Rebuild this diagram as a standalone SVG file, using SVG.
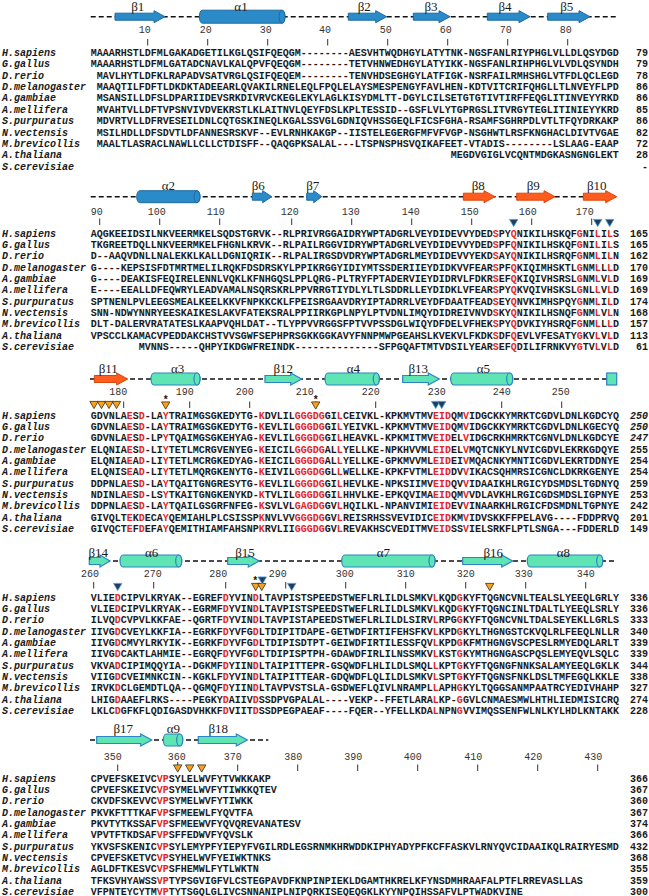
<svg xmlns="http://www.w3.org/2000/svg" xmlns:xlink="http://www.w3.org/1999/xlink" width="649" height="896" viewBox="0 0 649 896">
<style>
.s{font-family:"Liberation Mono","Courier New",monospace;font-size:10px;font-weight:bold;fill:#1a1a1a}
.n{font-family:"Liberation Mono","Courier New",monospace;font-size:10px;font-style:italic;font-weight:bold;fill:#1a1a1a}
.c{font-family:"Liberation Mono","Courier New",monospace;font-size:10px;font-weight:bold;fill:#1a1a1a;text-anchor:end}
.ci{font-style:italic}
.r{fill:#e3261f}
.rl{font-family:"Liberation Mono","Courier New",monospace;font-size:10px;fill:#333;text-anchor:middle}
.tk{stroke:#333;stroke-width:1}
.ss{font-family:"Liberation Serif","Times New Roman",serif;font-size:13px;fill:#1a1a1a;text-anchor:middle}
.dash{stroke:#111;stroke-width:1.6;stroke-dasharray:5 3;fill:none}
.bl{fill:#2b8bc9;stroke:#1c6aa3;stroke-width:1}
.or{fill:#ff5c1e;stroke:#d8470f;stroke-width:1}
.mi{fill:#5fe5b4;stroke:#2d84c4;stroke-width:1.2}
.tb{fill:#1e3f5f;stroke:#4aa0d8;stroke-width:0.8}
.to{fill:#f6a21e;stroke:#3b2a12;stroke-width:0.8}
.st{font-family:"Liberation Mono","Courier New",monospace;font-size:10px;font-weight:bold;fill:#111;text-anchor:middle}
</style>
<defs>
<path id="tri" d="M-4.2,-3.6 H4.2 L0,3.6 Z"/>
</defs>

<!-- ================= BLOCK 1 ================= -->
<g id="block1">
<g id="ss1">
<line class="dash" x1="90.7" y1="16.7" x2="616.7" y2="16.7"/>
<path class="bl" d="M115,13.2 H154 V10.7 L165,16.7 L154,22.7 V20.2 H115 Z"/>
<path class="bl" d="M202.3,10.2 H282 A3,6.5 0 0 1 282,23.2 H202.3 A3,6.5 0 0 1 202.3,10.2 Z"/>
<ellipse class="bl" cx="282" cy="16.7" rx="3" ry="6.5"/>
<path class="bl" d="M348.3,13.2 H375.7 V10.7 L386.7,16.7 L375.7,22.7 V20.2 H348.3 Z"/>
<path class="bl" d="M413.3,13.2 H439 V10.7 L450,16.7 L439,22.7 V20.2 H413.3 Z"/>
<path class="bl" d="M487.3,13.2 H519 V10.7 L530,16.7 L519,22.7 V20.2 H487.3 Z"/>
<path class="bl" d="M547.7,13.2 H579 V10.7 L590,16.7 L579,22.7 V20.2 H547.7 Z"/>
<text class="ss" x="137.7" y="10.5">β1</text>
<text class="ss" x="241" y="10.5">α1</text>
<text class="ss" x="364.3" y="10.5">β2</text>
<text class="ss" x="431" y="10.5">β3</text>
<text class="ss" x="505" y="10.5">β4</text>
<text class="ss" x="566.7" y="10.5">β5</text>
</g>
<g id="ruler1">
<text class="rl" x="144.7" y="32.8">10</text><line class="tk" x1="147.7" y1="39" x2="147.7" y2="45.5"/>
<text class="rl" x="205.7" y="32.8">20</text><line class="tk" x1="207.7" y1="39" x2="207.7" y2="45.5"/>
<text class="rl" x="265.7" y="32.8">30</text><line class="tk" x1="267.7" y1="39" x2="267.7" y2="45.5"/>
<text class="rl" x="325" y="32.8">40</text><line class="tk" x1="327.7" y1="39" x2="327.7" y2="45.5"/>
<text class="rl" x="385.7" y="32.8">50</text><line class="tk" x1="387.7" y1="39" x2="387.7" y2="45.5"/>
<text class="rl" x="445.7" y="32.8">60</text><line class="tk" x1="447.7" y1="39" x2="447.7" y2="45.5"/>
<text class="rl" x="505.7" y="32.8">70</text><line class="tk" x1="507.7" y1="39" x2="507.7" y2="45.5"/>
<text class="rl" x="565.7" y="32.8">80</text><line class="tk" x1="567.7" y1="39" x2="567.7" y2="45.5"/>
</g>
<g id="names1">
<text class="n" x="2" y="56">H.sapiens</text>
<text class="n" x="2" y="67.4">G.gallus</text>
<text class="n" x="2" y="78.7">D.rerio</text>
<text class="n" x="2" y="90.1">D.melanogaster</text>
<text class="n" x="2" y="101.4">A.gambiae</text>
<text class="n" x="2" y="112.8">A.mellifera</text>
<text class="n" x="2" y="124.1">S.purpuratus</text>
<text class="n" x="2" y="135.5">N.vectensis</text>
<text class="n" x="2" y="146.8">M.brevicollis</text>
<text class="n" x="2" y="158.2">A.thaliana</text>
<text class="n" x="2" y="169.5">S.cerevisiae</text>
</g>
<g id="seq1">
<text class="s" x="90.7" y="56">MAAARHSTLDFMLGAKADGETILKGLQSIFQEQGM--------AESVHTWQDHGYLATYTNK-NGSFANLRIYPHGLVLLDLQSYDGD</text>
<text class="s" x="90.7" y="67.4">MAAARHSTLDFMLGATADCNAVLKALQPVFQEQGM--------TETVHNWEDHGYLATYIKK-NGSFANLRIHPHGLVLVDLQSYNDH</text>
<text class="s" x="96.7" y="78.7">MAVLHYTLDFKLRAPADVSATVRGLQSIFQEQEM--------TENVHDSEGHGYLATFIGK-NSRFAILRMHSHGLVTFDLQCLEGD</text>
<text class="s" x="96.7" y="90.1">MAAQTILFDFTLDKDKTADEEARLQVAKILRNELEQLFPQLELAYSMESPENGYFAVLHEN-KDTVITCRIFQHGLLTLNVEYFLPD</text>
<text class="s" x="96.7" y="101.4">MSANSILLDFSLDPARIIDEVSRKDIVRVCKEGLEKYLAGLKISYDMLTT-DGYLCILSETGTGTIVTIRFFEQGLITINVEYYRKD</text>
<text class="s" x="96.7" y="112.8">MVAHTVLLDFTVPSNVIVDVEKRSTLKLAITNVLQEYFDSLKPLTESSID--GSFLVLYTGPRGSLITVRGYTEGLITINIEYYKRD</text>
<text class="s" x="96.7" y="124.1">MDVRTVLLDFRVESEILDNLCQTGSKINEQLKGALSSVGLGDNIQVHSSGEQLFICSFGHA-RSAMFSGHRPDLVTLTFQYDRKAKP</text>
<text class="s" x="96.7" y="135.5">MSILHDLLDFSDVTLDFANNESRSKVF--EVLRNHKAKGP--IISTELEGERGFMFVFVGP-NSGHWTLRSFKNGHACLDIVTVGAE</text>
<text class="s" x="96.7" y="146.8">MAALTLASRACLNAWLLCLLCTDISFF--QAQGPKSALAL---LTSPNSPHSVQIKAFEET-VTADIS--------LSLAAG-EAAP</text>
<text class="s" x="450.7" y="158.2">MEGDVGIGLVCQNTMDGKASNGNGLEKT</text>
</g>
<g id="num1">
<text class="c" x="648" y="56">79</text>
<text class="c" x="648" y="67.4">79</text>
<text class="c" x="648" y="78.7">78</text>
<text class="c" x="648" y="90.1">86</text>
<text class="c" x="648" y="101.4">86</text>
<text class="c" x="648" y="112.8">85</text>
<text class="c" x="648" y="124.1">86</text>
<text class="c" x="648" y="135.5">82</text>
<text class="c" x="648" y="146.8">72</text>
<text class="c" x="648" y="158.2">28</text>
<text class="c" x="648" y="169.5">-</text>
</g>
</g>

<!-- ================= BLOCK 2 ================= -->
<g id="block2">
<g id="ss2">
<line class="dash" x1="90.7" y1="196.7" x2="616.7" y2="196.7"/>
<path class="bl" d="M139.7,190.7 H197 A3,6 0 0 1 197,202.7 H139.7 A3,6 0 0 1 139.7,190.7 Z"/>
<ellipse class="bl" cx="197" cy="196.7" rx="3" ry="6"/>
<path class="bl" d="M252.3,193.2 H262.7 V190.7 L271.7,196.7 L262.7,202.7 V200.2 H252.3 Z"/>
<path class="bl" d="M306.7,193.2 H313.7 V190.7 L321.7,196.7 L313.7,202.7 V200.2 H306.7 Z"/>
<path class="or" d="M463.3,193.2 H484 V190.7 L495,196.7 L484,202.7 V200.2 H463.3 Z"/>
<path class="or" d="M516.7,193.2 H544 V190.7 L555,196.7 L544,202.7 V200.2 H516.7 Z"/>
<path class="or" d="M583.3,193.2 H605.7 V190.7 L616.7,196.7 L605.7,202.7 V200.2 H583.3 Z"/>
<text class="ss" x="168.3" y="189.5">α2</text>
<text class="ss" x="258.3" y="189.5">β6</text>
<text class="ss" x="312.7" y="189.5">β7</text>
<text class="ss" x="478.3" y="189.5">β8</text>
<text class="ss" x="533.3" y="189.5">β9</text>
<text class="ss" x="596.7" y="189.5">β10</text>
</g>
<g id="ruler2">
<text class="rl" x="96.7" y="214.5">90</text><line class="tk" x1="99.7" y1="218.5" x2="99.7" y2="225"/>
<text class="rl" x="156.7" y="214.5">100</text><line class="tk" x1="159.7" y1="218.5" x2="159.7" y2="225"/>
<text class="rl" x="215.7" y="214.5">110</text><line class="tk" x1="219.7" y1="218.5" x2="219.7" y2="225"/>
<text class="rl" x="289.7" y="214.5">120</text><line class="tk" x1="291.7" y1="218.5" x2="291.7" y2="225"/>
<text class="rl" x="350.7" y="214.5">130</text><line class="tk" x1="351.7" y1="218.5" x2="351.7" y2="225"/>
<text class="rl" x="410.7" y="214.5">140</text><line class="tk" x1="411.7" y1="218.5" x2="411.7" y2="225"/>
<text class="rl" x="469.7" y="214.5">150</text><line class="tk" x1="471.7" y1="218.5" x2="471.7" y2="225"/>
<text class="rl" x="527.7" y="214.5">160</text><line class="tk" x1="531.7" y1="218.5" x2="531.7" y2="225"/>
<text class="rl" x="584.7" y="214.5">170</text><line class="tk" x1="591.7" y1="218.5" x2="591.7" y2="225"/>
</g>
<g id="marks2">
<use href="#tri" class="tb" x="513.7" y="223"/>
<use href="#tri" class="tb" x="597.7" y="223"/>
<use href="#tri" class="tb" x="609.7" y="223"/>
</g>
<g id="names2">
<text class="n" x="2" y="236.5">H.sapiens</text>
<text class="n" x="2" y="247.9">G.gallus</text>
<text class="n" x="2" y="259.2">D.rerio</text>
<text class="n" x="2" y="270.6">D.melanogaster</text>
<text class="n" x="2" y="281.9">A.gambiae</text>
<text class="n" x="2" y="293.3">A.mellifera</text>
<text class="n" x="2" y="304.6">S.purpuratus</text>
<text class="n" x="2" y="316">N.vectensis</text>
<text class="n" x="2" y="327.3">M.brevicollis</text>
<text class="n" x="2" y="338.7">A.thaliana</text>
<text class="n" x="2" y="350">S.cerevisiae</text>
</g>
<g id="seq2">
<text class="s" x="90.7" y="236.5">AQGKEEIDSILNKVEERMKELSQDSTGRVK--RLPRIVRGGAIDRYWPTADGRLVEYDIDEVVYDED<tspan class="r">S</tspan>PY<tspan class="r">Q</tspan>NIKILHSKQF<tspan class="r">G</tspan>NI<tspan class="r">L</tspan>I<tspan class="r">L</tspan>S</text>
<text class="s" x="90.7" y="247.9">TKGREETDQLLNKVEERMKELFHGNLKRVK--RLPAILRGGVIDRYWPTADGRLVEYDIDEVVYDED<tspan class="r">S</tspan>PF<tspan class="r">Q</tspan>NIKILHSKQF<tspan class="r">G</tspan>NI<tspan class="r">L</tspan>I<tspan class="r">L</tspan>S</text>
<text class="s" x="90.7" y="259.2">D--AAQVDNLLNALEKKLKALLDGNIQRIK--RLPALIRGSDVDRYWPTADGRLMEYDIDEVVYEKD<tspan class="r">S</tspan>AY<tspan class="r">Q</tspan>NIKILHSRQF<tspan class="r">G</tspan>NM<tspan class="r">L</tspan>I<tspan class="r">L</tspan>N</text>
<text class="s" x="90.7" y="270.6">G----KEPSISFDTMRTMELILRQKFDSDRSKYLPPIKRGGYIDIYMTSSDERIIEYDIDKVVFEAR<tspan class="r">S</tspan>PF<tspan class="r">Q</tspan>KIQIMHSKTL<tspan class="r">G</tspan>NM<tspan class="r">L</tspan>L<tspan class="r">L</tspan>D</text>
<text class="s" x="90.7" y="281.9">G----DEAKISFEQIRELENNLVQKLKFNHGQSLPPLQRG-PLTRYFPTADERVIEYDIDRVLFDKR<tspan class="r">S</tspan>EF<tspan class="r">Q</tspan>KIQIVHSRSL<tspan class="r">G</tspan>NM<tspan class="r">L</tspan>V<tspan class="r">L</tspan>D</text>
<text class="s" x="90.7" y="293.3">E----EEALLDFEQWRYLEADVAMALNSQRSKRLPPVRRGTIYDLYLTLSDDRLLEYDIDKLVFEAR<tspan class="r">S</tspan>PY<tspan class="r">Q</tspan>KVQIVHSKSL<tspan class="r">G</tspan>NL<tspan class="r">L</tspan>V<tspan class="r">L</tspan>D</text>
<text class="s" x="90.7" y="304.6">SPTNENLPVLEEGSMEALKEELKKVFNPKKCKLFPEISRGAAVDRYIPTADRRLVEYDFDAATFEAD<tspan class="r">S</tspan>EY<tspan class="r">Q</tspan>NVKIMHSPQY<tspan class="r">G</tspan>NM<tspan class="r">L</tspan>I<tspan class="r">L</tspan>D</text>
<text class="s" x="90.7" y="316">SNN-NDWYNNRYEESKAIKESLAKVFATEKSRALPPIIRKGPLNPYLPTVDNLIMQYDIDREIVNVD<tspan class="r">S</tspan>KY<tspan class="r">Q</tspan>NIKILHSNQF<tspan class="r">G</tspan>NM<tspan class="r">L</tspan>V<tspan class="r">L</tspan>N</text>
<text class="s" x="90.7" y="327.3">DLT-DALERVRATATESLKAAPVQHLDAT--TLYPPVVRGGSFPTVVPSSDGLWIQYDFDELVFHEK<tspan class="r">S</tspan>PY<tspan class="r">Q</tspan>DVKIYHSRQF<tspan class="r">G</tspan>NM<tspan class="r">L</tspan>L<tspan class="r">L</tspan>D</text>
<text class="s" x="90.7" y="338.7">VPSCCLKAMACVPEDDAKCHSTVVSGWFSEPHPRSGKKGGKAVYFNNPMWPGEAHSLKVEKVLFKDK<tspan class="r">S</tspan>DF<tspan class="r">Q</tspan>EVLVFESATY<tspan class="r">G</tspan>KV<tspan class="r">L</tspan>V<tspan class="r">L</tspan>D</text>
<text class="s" x="138.7" y="350">MVNNS-----QHPYIKDGWFREINDK--------------SFPGQAFTMTVDSILYEAR<tspan class="r">S</tspan>EF<tspan class="r">Q</tspan>DILIFRNKVY<tspan class="r">G</tspan>TV<tspan class="r">L</tspan>V<tspan class="r">L</tspan>D</text>
</g>
<g id="num2">
<text class="c" x="648" y="236.5">165</text>
<text class="c" x="648" y="247.9">165</text>
<text class="c" x="648" y="259.2">162</text>
<text class="c" x="648" y="270.6">170</text>
<text class="c" x="648" y="281.9">169</text>
<text class="c" x="648" y="293.3">169</text>
<text class="c" x="648" y="304.6">174</text>
<text class="c" x="648" y="316">168</text>
<text class="c" x="648" y="327.3">157</text>
<text class="c" x="648" y="338.7">113</text>
<text class="c" x="648" y="350">61</text>
</g>
</g>

<!-- ================= BLOCK 3 ================= -->
<g id="block3">
<g id="ss3">
<line class="dash" x1="90" y1="379" x2="606.7" y2="379"/>
<path class="or" d="M94.3,375.5 H116.7 V373 L127.7,379 L116.7,385 V382.5 H94.3 Z"/>
<path class="mi" d="M154,373 H197 A3,6 0 0 1 197,385 H154 A3,6 0 0 1 154,373 Z"/>
<ellipse class="mi" cx="197" cy="379" rx="3" ry="6"/>
<path class="mi" d="M265,375.5 H290.7 V373 L301.7,379 L290.7,385 V382.5 H265 Z"/>
<path class="mi" d="M328,373 H376.3 A3,6 0 0 1 376.3,385 H328 A3,6 0 0 1 328,373 Z"/>
<ellipse class="mi" cx="376.3" cy="379" rx="3" ry="6"/>
<path class="mi" d="M402.7,375.5 H428.3 V373 L439.3,379 L428.3,385 V382.5 H402.7 Z"/>
<path class="mi" d="M453.7,373 H509.7 A3,6 0 0 1 509.7,385 H453.7 A3,6 0 0 1 453.7,373 Z"/>
<ellipse class="mi" cx="509.7" cy="379" rx="3" ry="6"/>
<rect class="mi" x="606.7" y="373" width="10" height="12"/>
<text class="ss" x="108.3" y="372.8">β11</text>
<text class="ss" x="177.7" y="372.8">α3</text>
<text class="ss" x="283.3" y="372.8">β12</text>
<text class="ss" x="353.3" y="372.8">α4</text>
<text class="ss" x="418.3" y="372.8">β13</text>
<text class="ss" x="483.3" y="372.8">α5</text>
</g>
<g id="ruler3">
<text class="rl" x="118.3" y="395.2">180</text><line class="tk" x1="123.7" y1="401.5" x2="123.7" y2="408"/>
<text class="rl" x="184.7" y="395.2">190</text><line class="tk" x1="189.7" y1="401.5" x2="189.7" y2="408"/>
<text class="rl" x="244.7" y="395.2">200</text><line class="tk" x1="249.7" y1="401.5" x2="249.7" y2="408"/>
<text class="rl" x="304.7" y="395.2">210</text><line class="tk" x1="315.7" y1="401.5" x2="315.7" y2="408"/>
<text class="rl" x="370.7" y="395.2">220</text><line class="tk" x1="375.7" y1="401.5" x2="375.7" y2="408"/>
<text class="rl" x="436.7" y="395.2">230</text><line class="tk" x1="441.7" y1="401.5" x2="441.7" y2="408"/>
<text class="rl" x="501.7" y="395.2">240</text><line class="tk" x1="501.7" y1="401.5" x2="501.7" y2="408"/>
<text class="rl" x="560.7" y="395.2">250</text><line class="tk" x1="561.7" y1="401.5" x2="561.7" y2="408"/>
</g>
<g id="marks3">
<use href="#tri" class="to" x="94" y="405"/>
<use href="#tri" class="to" x="101.5" y="405"/>
<use href="#tri" class="to" x="109" y="405"/>
<use href="#tri" class="to" x="116.5" y="405"/>
<text class="st" x="165.7" y="403">*</text>
<use href="#tri" class="to" x="165.7" y="405.5"/>
<text class="st" x="315.7" y="403">*</text>
<use href="#tri" class="to" x="315.7" y="405.5"/>
<use href="#tri" class="tb" x="435.7" y="405"/>
<use href="#tri" class="tb" x="441.7" y="405"/>
</g>
<g id="names3">
<text class="n" x="2" y="418.5">H.sapiens</text>
<text class="n" x="2" y="429.9">G.gallus</text>
<text class="n" x="2" y="441.2">D.rerio</text>
<text class="n" x="2" y="452.6">D.melanogaster</text>
<text class="n" x="2" y="463.9">A.gambiae</text>
<text class="n" x="2" y="475.3">A.mellifera</text>
<text class="n" x="2" y="486.6">S.purpuratus</text>
<text class="n" x="2" y="498">N.vectensis</text>
<text class="n" x="2" y="509.3">M.brevicollis</text>
<text class="n" x="2" y="520.7">A.thaliana</text>
<text class="n" x="2" y="532">S.cerevisiae</text>
</g>
<g id="seq3">
<text class="s" x="90.7" y="418.5">GDVNLA<tspan class="r">E</tspan>S<tspan class="r">D</tspan>-LA<tspan class="r">Y</tspan>TRAIMGSGKEDYTG-<tspan class="r">K</tspan>DVLIL<tspan class="r">GGGDG</tspan>GI<tspan class="r">L</tspan>CEIVKL-KPKMVTMV<tspan class="r">EID</tspan>QM<tspan class="r">V</tspan>IDGCKKYMRKTCGDVLDNLKGDCYQ</text>
<text class="s" x="90.7" y="429.9">GDVNLA<tspan class="r">E</tspan>S<tspan class="r">D</tspan>-LA<tspan class="r">Y</tspan>TRAIMGSGKEDYTG-<tspan class="r">K</tspan>EVLIL<tspan class="r">GGGDG</tspan>GI<tspan class="r">L</tspan>YEIVKL-KPKMVTMV<tspan class="r">EID</tspan>QM<tspan class="r">V</tspan>IDGCKKYMRKTCGDVLDNLKGECYQ</text>
<text class="s" x="90.7" y="441.2">GDVNLA<tspan class="r">E</tspan>S<tspan class="r">D</tspan>-LP<tspan class="r">Y</tspan>TQAIMGSGKEHYAG-<tspan class="r">K</tspan>EVLIL<tspan class="r">GGGDG</tspan>GI<tspan class="r">L</tspan>HEAVKL-KPKMITMV<tspan class="r">EID</tspan>EL<tspan class="r">V</tspan>IDGCRKHMRKTCGNVLDNLKGDCYE</text>
<text class="s" x="90.7" y="452.6">ELQNIA<tspan class="r">E</tspan>S<tspan class="r">D</tspan>-LI<tspan class="r">Y</tspan>TETLMCRGVENYEG-<tspan class="r">K</tspan>EICIL<tspan class="r">GGGDG</tspan>AL<tspan class="r">L</tspan>YELLKE-NPKHVVML<tspan class="r">EID</tspan>EL<tspan class="r">V</tspan>MQTCNKYLNVICGDVLEKRKGDQYE</text>
<text class="s" x="90.7" y="463.9">ELQNIA<tspan class="r">E</tspan>A<tspan class="r">D</tspan>-LI<tspan class="r">Y</tspan>TETLMCRGKEDYAG-<tspan class="r">K</tspan>EICIL<tspan class="r">GGGDG</tspan>AL<tspan class="r">L</tspan>YELLKE-GPKMVVML<tspan class="r">EID</tspan>EI<tspan class="r">V</tspan>MQACNKYMNTICGDVLEKRTDDNYE</text>
<text class="s" x="90.7" y="475.3">ELQNIS<tspan class="r">E</tspan>A<tspan class="r">D</tspan>-LI<tspan class="r">Y</tspan>TETLMQRGKENYTG-<tspan class="r">K</tspan>EIVIL<tspan class="r">GGGDG</tspan>GL<tspan class="r">L</tspan>WELLKE-KPKFVTML<tspan class="r">EID</tspan>DV<tspan class="r">V</tspan>IKACSQHMRSICGNCLDKRKGENYE</text>
<text class="s" x="90.7" y="486.6">DDPNLA<tspan class="r">E</tspan>S<tspan class="r">D</tspan>-LA<tspan class="r">Y</tspan>TQAITGNGRESYTG-<tspan class="r">K</tspan>EVLIL<tspan class="r">GGGDG</tspan>GI<tspan class="r">L</tspan>HEVLKE-NPKSIIMV<tspan class="r">EID</tspan>QV<tspan class="r">V</tspan>IDAAIKHLRGICYDSMDSLTGDNYQ</text>
<text class="s" x="90.7" y="498">NDINLA<tspan class="r">E</tspan>S<tspan class="r">D</tspan>-LS<tspan class="r">Y</tspan>TKAITGNGKENYKD-<tspan class="r">K</tspan>TVLIL<tspan class="r">GGGDG</tspan>GI<tspan class="r">L</tspan>HHVLKE-EPKQVIMA<tspan class="r">EID</tspan>QM<tspan class="r">V</tspan>VDLAVKHLRGICGDSMDSLIGPNYE</text>
<text class="s" x="90.7" y="509.3">DDPNLA<tspan class="r">E</tspan>S<tspan class="r">D</tspan>-LA<tspan class="r">Y</tspan>TQAILGSGRFNFEG-<tspan class="r">K</tspan>SVLVL<tspan class="r">GAGDG</tspan>GV<tspan class="r">L</tspan>HQILKL-NPANVIMI<tspan class="r">EID</tspan>EV<tspan class="r">V</tspan>INAARKHLRGICFDSMDNLTGPNYE</text>
<text class="s" x="90.7" y="520.7">GIVQLT<tspan class="r">E</tspan>K<tspan class="r">D</tspan>ECA<tspan class="r">Y</tspan>QEMIAHLPLCSISSP<tspan class="r">K</tspan>NVLVV<tspan class="r">GGGDG</tspan>GV<tspan class="r">L</tspan>REISRHSSVEVIDIC<tspan class="r">EID</tspan>KM<tspan class="r">V</tspan>IDVSKKFFPELAVG----FDDPRVQ</text>
<text class="s" x="90.7" y="532">GIVQCT<tspan class="r">E</tspan>F<tspan class="r">D</tspan>EFA<tspan class="r">Y</tspan>QEMITHIAMFAHSNP<tspan class="r">K</tspan>RVLII<tspan class="r">GGGDG</tspan>GV<tspan class="r">L</tspan>REVAKHSCVEDITMV<tspan class="r">EID</tspan>SS<tspan class="r">V</tspan>IELSRKFLPTLSNGA---FDDERLD</text>
</g>
<g id="num3">
<text class="c ci" x="648" y="418.5">250</text>
<text class="c ci" x="648" y="429.9">250</text>
<text class="c ci" x="648" y="441.2">247</text>
<text class="c" x="648" y="452.6">255</text>
<text class="c" x="648" y="463.9">254</text>
<text class="c" x="648" y="475.3">254</text>
<text class="c" x="648" y="486.6">259</text>
<text class="c" x="648" y="498">253</text>
<text class="c" x="648" y="509.3">242</text>
<text class="c" x="648" y="520.7">201</text>
<text class="c" x="648" y="532">149</text>
</g>
</g>

<!-- ================= BLOCK 4 ================= -->
<g id="block4">
<g id="ss4">
<line class="dash" x1="89" y1="561" x2="616.7" y2="561"/>
<path class="mi" d="M89.3,557.5 H100 V555 L110,561 L100,567 V564.5 H89.3 Z"/>
<path class="mi" d="M123,555 H178.7 A3,6 0 0 1 178.7,567 H123 A3,6 0 0 1 123,555 Z"/>
<ellipse class="mi" cx="178.7" cy="561" rx="3" ry="6"/>
<path class="mi" d="M227.7,557.5 H248.3 V555 L259.3,561 L248.3,567 V564.5 H227.7 Z"/>
<path class="mi" d="M344.7,555 H432 A3,6 0 0 1 432,567 H344.7 A3,6 0 0 1 344.7,555 Z"/>
<ellipse class="mi" cx="432" cy="561" rx="3" ry="6"/>
<path class="mi" d="M462.7,557.5 H501.7 V555 L512.7,561 L501.7,567 V564.5 H462.7 Z"/>
<path class="mi" d="M530.3,555 H599.7 A3,6 0 0 1 599.7,567 H530.3 A3,6 0 0 1 530.3,555 Z"/>
<ellipse class="mi" cx="599.7" cy="561" rx="3" ry="6"/>
<text class="ss" x="98.3" y="556.8">β14</text>
<text class="ss" x="151.7" y="556.8">α6</text>
<text class="ss" x="245" y="556.8">β15</text>
<text class="ss" x="383.3" y="556.8">α7</text>
<text class="ss" x="493.3" y="556.8">β16</text>
<text class="ss" x="563.3" y="556.8">α8</text>
</g>
<g id="ruler4">
<text class="rl" x="90" y="576.8">260</text><line class="tk" x1="93.7" y1="582" x2="93.7" y2="588.5"/>
<text class="rl" x="152.7" y="576.8">270</text><line class="tk" x1="153.7" y1="582" x2="153.7" y2="588.5"/>
<text class="rl" x="218.3" y="576.8">280</text><line class="tk" x1="225.7" y1="582" x2="225.7" y2="588.5"/>
<text class="rl" x="277.7" y="576.8">290</text><line class="tk" x1="285.7" y1="582" x2="285.7" y2="588.5"/>
<text class="rl" x="344.7" y="576.8">300</text><line class="tk" x1="345.7" y1="582" x2="345.7" y2="588.5"/>
<text class="rl" x="405.7" y="576.8">310</text><line class="tk" x1="405.7" y1="582" x2="405.7" y2="588.5"/>
<text class="rl" x="465.7" y="576.8">320</text><line class="tk" x1="465.7" y1="582" x2="465.7" y2="588.5"/>
<text class="rl" x="523.7" y="576.8">330</text><line class="tk" x1="525.7" y1="582" x2="525.7" y2="588.5"/>
<text class="rl" x="585.7" y="576.8">340</text><line class="tk" x1="585.7" y1="582" x2="585.7" y2="588.5"/>
</g>
<g id="marks4">
<use href="#tri" class="tb" x="117.7" y="587"/>
<use href="#tri" class="to" x="255.7" y="587"/>
<use href="#tri" class="to" x="261.7" y="587"/>
<text class="st" x="255.2" y="584">*</text>
<use href="#tri" class="tb" x="262.3" y="580.5"/>
<use href="#tri" class="tb" x="291.7" y="587"/>
<use href="#tri" class="to" x="489.7" y="587"/>
</g>
<g id="names4">
<text class="n" x="2" y="600.5">H.sapiens</text>
<text class="n" x="2" y="611.9">G.gallus</text>
<text class="n" x="2" y="623.2">D.rerio</text>
<text class="n" x="2" y="634.6">D.melanogaster</text>
<text class="n" x="2" y="645.9">A.gambiae</text>
<text class="n" x="2" y="657.3">A.mellifera</text>
<text class="n" x="2" y="668.6">S.purpuratus</text>
<text class="n" x="2" y="680">N.vectensis</text>
<text class="n" x="2" y="691.3">M.brevicollis</text>
<text class="n" x="2" y="702.7">A.thaliana</text>
<text class="n" x="2" y="714">S.cerevisiae</text>
</g>
<g id="seq4">
<text class="s" x="90.7" y="600.5">VLIE<tspan class="r">D</tspan>CIPVLKRYAK--EGREF<tspan class="r">D</tspan>YVIN<tspan class="r">D</tspan>LTAVPISTSPEEDSTWEFLRLILDLSMKV<tspan class="r">L</tspan>KQD<tspan class="r">G</tspan>KYFTQGNCVNLTEALSLYEEQLGRLY</text>
<text class="s" x="90.7" y="611.9">VLIE<tspan class="r">D</tspan>CIPVLKRYAK--EGRMF<tspan class="r">D</tspan>YVIN<tspan class="r">D</tspan>LTAVPISTSPEEDSTWEFLRLILDLSMKV<tspan class="r">L</tspan>KQD<tspan class="r">G</tspan>KYFTQGNCINLTDALTLYEEQLSRLY</text>
<text class="s" x="90.7" y="623.2">ILVQ<tspan class="r">D</tspan>CVPVLKKFAE--QGRTF<tspan class="r">D</tspan>YVIN<tspan class="r">D</tspan>LTAVPISTAPEEDSTWEFLRLILDLSIRV<tspan class="r">L</tspan>RPG<tspan class="r">G</tspan>KYFTQGNCVNLTDALSEYEKLLGRLS</text>
<text class="s" x="90.7" y="634.6">IIVG<tspan class="r">D</tspan>CVEYLKKFIA--EGRKF<tspan class="r">D</tspan>YVFG<tspan class="r">D</tspan>LTDIPITDAPE-GETWDFIRTIFEHSFKV<tspan class="r">L</tspan>KPD<tspan class="r">G</tspan>KYLTHGNGSTCKVQLRLFEEQLNLLR</text>
<text class="s" x="90.7" y="645.9">IIVG<tspan class="r">D</tspan>CMVYLRKYIK--EGRKF<tspan class="r">D</tspan>YVFG<tspan class="r">D</tspan>LTDIPISDTPT-GEIWDFIRTILESSFQV<tspan class="r">L</tspan>KPD<tspan class="r">G</tspan>KFMTHGNGVSCPESLRMYEDQLARLT</text>
<text class="s" x="90.7" y="657.3">IIVG<tspan class="r">D</tspan>CAKTLAHMIE--EGRQF<tspan class="r">D</tspan>YVFG<tspan class="r">D</tspan>LTDIPISPTPH-GDAWDFIRLILNSSMKV<tspan class="r">L</tspan>KST<tspan class="r">G</tspan>KYMTHGNGASCPQSLEMYEQVLSQLC</text>
<text class="s" x="90.7" y="668.6">VKVA<tspan class="r">D</tspan>CIPIMQQYIA--DGKMF<tspan class="r">D</tspan>YIIN<tspan class="r">D</tspan>LTAIPITTEPR-GSQWDFLHLILDLSMQL<tspan class="r">L</tspan>KPT<tspan class="r">G</tspan>KYFTQGNGFNNKSALAMYEEQLGKLK</text>
<text class="s" x="90.7" y="680">VIIG<tspan class="r">D</tspan>CVEIMNKCIN--KGKLF<tspan class="r">D</tspan>YVIN<tspan class="r">D</tspan>LTAIPITTEAR-GDQWDFLQLILDLSMKV<tspan class="r">L</tspan>SPT<tspan class="r">G</tspan>KYFTQGNSFNKLDSLTMFEGQLKKLE</text>
<text class="s" x="90.7" y="691.3">IRVK<tspan class="r">D</tspan>CLGEMDTLQA--QGMQF<tspan class="r">D</tspan>YIIN<tspan class="r">D</tspan>LTAVPVSTSLA-GSDWEFLQIVLNRAMPL<tspan class="r">L</tspan>APH<tspan class="r">G</tspan>KYLTQGGSANMPAATRCYEDIVHAHP</text>
<text class="s" x="90.7" y="702.7">LHIG<tspan class="r">D</tspan>AAEFLRKS----PEGKY<tspan class="r">D</tspan>AIIV<tspan class="r">D</tspan>SSDPVGPALAL----VEKP--FFETLARA<tspan class="r">L</tspan>KP-<tspan class="r">G</tspan>GVLCNMAESMWLHTHLIEDMISICRQ</text>
<text class="s" x="90.7" y="714">LKLC<tspan class="r">D</tspan>GFKFLQDIGASDVHKKF<tspan class="r">D</tspan>VIIT<tspan class="r">D</tspan>SSDPEGPAEAF----FQER--YFELLKDA<tspan class="r">L</tspan>NPN<tspan class="r">G</tspan>VVIMQSSENFWLNLKYLHDLKNTAKK</text>
</g>
<g id="num4">
<text class="c" x="648" y="600.5">336</text>
<text class="c" x="648" y="611.9">336</text>
<text class="c" x="648" y="623.2">333</text>
<text class="c" x="648" y="634.6">340</text>
<text class="c" x="648" y="645.9">339</text>
<text class="c" x="648" y="657.3">339</text>
<text class="c" x="648" y="668.6">344</text>
<text class="c" x="648" y="680">338</text>
<text class="c" x="648" y="691.3">327</text>
<text class="c" x="648" y="702.7">274</text>
<text class="c" x="648" y="714">228</text>
</g>
</g>

<!-- ================= BLOCK 5 ================= -->
<g id="block5">
<g id="ss5">
<line class="dash" x1="90" y1="740" x2="268.3" y2="740"/>
<path class="mi" d="M96.7,736.5 H140.7 V734 L151.7,740 L140.7,746 V743.5 H96.7 Z"/>
<path class="mi" d="M166.3,734 H179.7 A3,6 0 0 1 179.7,746 H166.3 A3,6 0 0 1 166.3,734 Z"/>
<ellipse class="mi" cx="179.7" cy="740" rx="3" ry="6"/>
<path class="mi" d="M198.3,736.5 H236.3 V734 L247.3,740 L236.3,746 V743.5 H198.3 Z"/>
<text class="ss" x="123.3" y="732.8">β17</text>
<text class="ss" x="173.3" y="732.8">α9</text>
<text class="ss" x="218.3" y="732.8">β18</text>
</g>
<g id="ruler5">
<text class="rl" x="112.7" y="760.2">350</text><line class="tk" x1="117.7" y1="764.5" x2="117.7" y2="771"/>
<text class="rl" x="176.7" y="760.2">360</text><line class="tk" x1="177.7" y1="762" x2="177.7" y2="771"/>
<text class="rl" x="232.7" y="760.2">370</text><line class="tk" x1="237.7" y1="764.5" x2="237.7" y2="771"/>
<text class="rl" x="293.3" y="760.2">380</text><line class="tk" x1="297.7" y1="764.5" x2="297.7" y2="771"/>
<text class="rl" x="353.3" y="760.2">390</text><line class="tk" x1="357.7" y1="764.5" x2="357.7" y2="771"/>
<text class="rl" x="412.7" y="760.2">400</text><line class="tk" x1="417.7" y1="764.5" x2="417.7" y2="771"/>
<text class="rl" x="473.3" y="760.2">410</text><line class="tk" x1="477.7" y1="764.5" x2="477.7" y2="771"/>
<text class="rl" x="533.3" y="760.2">420</text><line class="tk" x1="537.7" y1="764.5" x2="537.7" y2="771"/>
<text class="rl" x="593.3" y="760.2">430</text><line class="tk" x1="597.7" y1="764.5" x2="597.7" y2="771"/>
</g>
<g id="marks5">
<use href="#tri" class="to" x="177.7" y="768.5"/>
<use href="#tri" class="to" x="189.7" y="768.5"/>
<use href="#tri" class="to" x="201.7" y="768.5"/>
</g>
<g id="names5">
<text class="n" x="2" y="781.5">H.sapiens</text>
<text class="n" x="2" y="792.9">G.gallus</text>
<text class="n" x="2" y="804.2">D.rerio</text>
<text class="n" x="2" y="815.6">D.melanogaster</text>
<text class="n" x="2" y="826.9">A.gambiae</text>
<text class="n" x="2" y="838.3">A.mellifera</text>
<text class="n" x="2" y="849.6">S.purpuratus</text>
<text class="n" x="2" y="861">N.vectensis</text>
<text class="n" x="2" y="872.3">M.brevicollis</text>
<text class="n" x="2" y="883.7">A.thaliana</text>
<text class="n" x="2" y="895">S.cerevisiae</text>
</g>
<g id="seq5">
<text class="s" x="90.7" y="781.5">CPVEFSKEIVC<tspan class="r">VP</tspan>SYLELWVFYTVWKKAKP</text>
<text class="s" x="90.7" y="792.9">CPVEFSKEIVC<tspan class="r">VP</tspan>SYMELWVFYTIWKKQTEV</text>
<text class="s" x="90.7" y="804.2">CKVDFSKEVVC<tspan class="r">VP</tspan>SYMELWVFYTIWKK</text>
<text class="s" x="90.7" y="815.6">PKVKFTTTKAF<tspan class="r">VP</tspan>SFMEEWLFYQVTFA</text>
<text class="s" x="90.7" y="826.9">PKVTYTKSSAF<tspan class="r">VP</tspan>SFMEEWVFYQVQREVANATESV</text>
<text class="s" x="90.7" y="838.3">VPVTFTKDSAF<tspan class="r">VP</tspan>SFFEDWVFYQVSLK</text>
<text class="s" x="90.7" y="849.6">YKVSFSKENIC<tspan class="r">VP</tspan>SYLEMYPFYIEPYFVGILRDLEGSRNMKHRWDDKIPHYADYPFKCFFASKVLRNYQVCIDAAIKQLRAIRYESMD</text>
<text class="s" x="90.7" y="861">CPVEFSKETVC<tspan class="r">VP</tspan>SYHELWVFYEIWKTNKS</text>
<text class="s" x="90.7" y="872.3">AGLDFTKESVC<tspan class="r">VP</tspan>SFHEMWLFYTLWKTN</text>
<text class="s" x="90.7" y="883.7">TFKSVHYAWSS<tspan class="r">VP</tspan>TYPSGVIGFVLCSTEGPAVDFKNPINPIEKLDGAMTHKRELKFYNSDMHRAAFALPTFLRREVASLLAS</text>
<text class="s" x="90.7" y="895">VFPNTEYCYTM<tspan class="r">VP</tspan>TYTSGQLGLIVCSNNANIPLNIPQRKISEQEQGKLKYYNPQIHSSAFVLPTWADKVINE</text>
</g>
<g id="num5">
<text class="c" x="648" y="781.5">366</text>
<text class="c" x="648" y="792.9">367</text>
<text class="c" x="648" y="804.2">360</text>
<text class="c" x="648" y="815.6">367</text>
<text class="c" x="648" y="826.9">374</text>
<text class="c" x="648" y="838.3">366</text>
<text class="c" x="648" y="849.6">432</text>
<text class="c" x="648" y="861">368</text>
<text class="c" x="648" y="872.3">355</text>
<text class="c" x="648" y="883.7">359</text>
<text class="c" x="648" y="895">300</text>
</g>
</g>
</svg>
